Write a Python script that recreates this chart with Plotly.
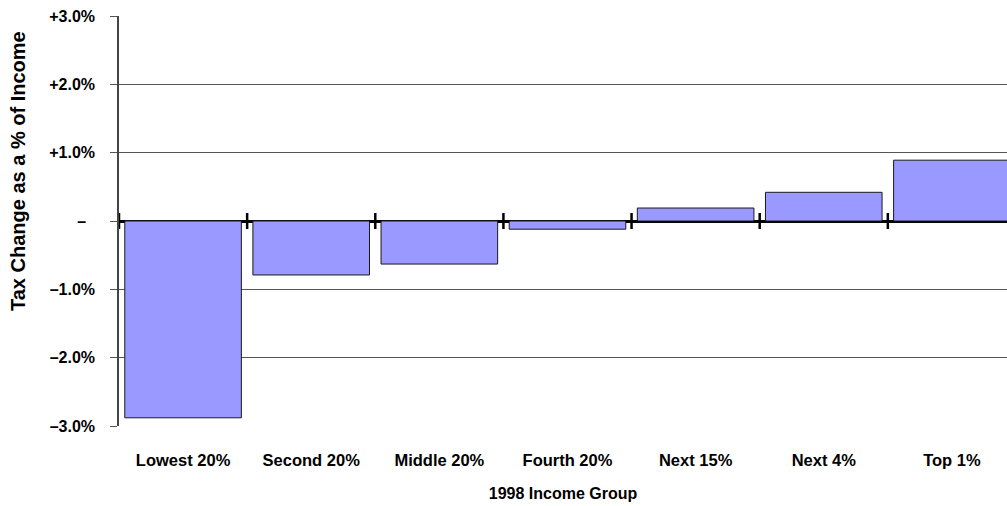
import plotly.graph_objects as go

# 1998 income groups and the change in tax as a share of income (percent)
groups = ["Lowest 20%", "Second 20%", "Middle 20%", "Fourth 20%",
          "Next 15%", "Next 4%", "Top 1%"]
tax_change = [-2.88, -0.79, -0.63, -0.12, 0.19, 0.42, 0.89]

y_tick_values = [3, 2, 1, 0, -1, -2, -3]
y_tick_labels = ["+3.0%", "+2.0%", "+1.0%", "\u2013\u2007", "\u20131.0%", "\u20132.0%", "\u20133.0%"]

FONT = "Liberation Sans Narrow, Arial Narrow, Liberation Sans, Arial, sans-serif"

fig = go.Figure()
fig.add_trace(go.Bar(
    x=list(range(len(groups))),
    y=tax_change,
    marker=dict(color="#9999FF", line=dict(color="#1a1a1a", width=1)),
    hoverinfo="skip",
))

# small boundary ticks crossing the zero line between the groups
for b in range(len(groups)):
    fig.add_shape(type="line", xref="x", yref="y", x0=b - 0.5, x1=b - 0.5,
                  ysizemode="pixel", yanchor=0, y0=-8, y1=8,
                  line=dict(color="black", width=2.5), layer="above")

# vertical axis title, set a little above the middle of the plot
fig.add_annotation(
    text="Tax Change as a % of Income", textangle=-90,
    xref="paper", yref="paper", x=-0.1137, y=0.622,
    xanchor="center", yanchor="middle", showarrow=False,
    font=dict(family=FONT, size=20, color="black", weight="bold"),
)

fig.update_layout(
    width=1007, height=506,
    margin=dict(l=119, r=0, t=16, b=80),
    paper_bgcolor="white", plot_bgcolor="white",
    bargap=0.09,
    showlegend=False,
    font=dict(family=FONT, color="black"),
    xaxis=dict(
        range=[-0.5, 6.43],
        tickmode="array",
        tickvals=list(range(len(groups))),
        ticktext=groups,
        tickfont=dict(family=FONT, size=16.5, color="black", weight="bold"),
        showgrid=False, zeroline=False, showline=False, ticks="",
        ticklabelstandoff=22,
        title=dict(text="1998 Income Group", standoff=20,
                   font=dict(family=FONT, size=16, color="black", weight="bold")),
    ),
    yaxis=dict(
        range=[-3, 3],
        tickmode="array",
        tickvals=y_tick_values,
        ticktext=y_tick_labels,
        tickfont=dict(family=FONT, size=16, color="black", weight="bold"),
        showgrid=True, gridcolor="#555555", gridwidth=1,
        zeroline=True, zerolinecolor="black", zerolinewidth=3,
        showline=True, linecolor="#444444", linewidth=1.5,
        ticks="outside", ticklen=7, tickcolor="#555555", tickwidth=1,
        ticklabelstandoff=12,
    ),
)

fig.write_html("out.html")
